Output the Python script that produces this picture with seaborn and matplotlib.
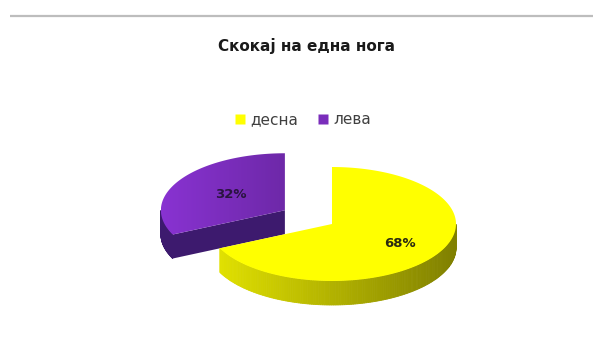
import numpy as np
import matplotlib
matplotlib.use("Agg")
import matplotlib.pyplot as plt
from matplotlib.patches import Polygon
from matplotlib.lines import Line2D
import seaborn as sns

# Data
categories = ["десна", "лева"]
values = [68, 32]
pct_labels = [f"{v}%" for v in values]
title = "Скокај на една нога"

sns.set_theme(style="white")
plt.rcParams["font.family"] = ["DejaVu Sans"]

top_colors = ["#ffff00", "#7a2dbb"]
side_colors = ["#c9c900", "#3d1a6e"]
label_colors = ["#2a2a10", "#2a1440"]

W, H = 593, 353
fig = plt.figure(figsize=(W / 100, H / 100), dpi=100)
ax = fig.add_axes([0, 0, 1, 1])
ax.set_xlim(0, W)
ax.set_ylim(H, 0)
ax.axis("off")

# pie geometry (pixel space, y downward)
cx, cy = 332, 224
rx, ry = 124, 57
depth = 24
explode = [0.0, 0.45]
label_r = [0.65, 0.52]
start = 90.0


def rim(c, t, dz=0.0):
    return (c[0] + rx * np.cos(np.radians(t)), c[1] - ry * np.sin(np.radians(t)) + dz)


def shade(color, f):
    rgb = np.array(matplotlib.colors.to_rgb(color))
    return tuple(np.clip(rgb * f, 0, 1))


total = float(sum(values))
angles = []
a = start
for v in values:
    span = 360.0 * v / total
    angles.append((a - span, a))  # clockwise from 12 o'clock
    a -= span

# draw the exploded slice first (it sits behind)
order = [1, 0]
for i in order:
    t0, t1 = angles[i]
    mid = 0.5 * (t0 + t1)
    c = (cx + explode[i] * rx * np.cos(np.radians(mid)),
         cy - explode[i] * ry * np.sin(np.radians(mid)))

    # radial cut faces that point toward the viewer
    for edge, normal in ((t0, t0 - 90), (t1, t1 + 90)):
        if np.sin(np.radians(normal)) < -0.05:
            pts = [c, rim(c, edge), rim(c, edge, depth), (c[0], c[1] + depth)]
            ax.add_patch(Polygon(pts, closed=True, facecolor=side_colors[i],
                                 edgecolor="none", zorder=2))

    # curved outer wall, visible on the front half
    ts = np.linspace(t0, t1, 240)
    for k in range(len(ts) - 1):
        ta, tb = ts[k], ts[k + 1]
        tm = np.radians(0.5 * (ta + tb))
        if np.sin(tm) < 0:
            if i == 0:
                col = shade(top_colors[0], 0.7 - 0.2 * np.cos(tm))
            else:
                col = side_colors[i]
            pts = [rim(c, ta), rim(c, tb), rim(c, tb, depth), rim(c, ta, depth)]
            ax.add_patch(Polygon(pts, closed=True, facecolor=col, edgecolor=col,
                                 linewidth=0.6, zorder=3))

    # top surface
    top = [c] + [rim(c, t) for t in ts]
    if i == 1:
        # purple top shaded from left to right
        poly = Polygon(top, closed=True, facecolor="none", edgecolor="none", zorder=4)
        ax.add_patch(poly)
        grad = np.linspace(1.12, 0.9, 256).reshape(1, -1)
        base = np.array(matplotlib.colors.to_rgb(top_colors[i]))
        img = np.clip(grad[..., None] * base, 0, 1)
        xs = [p[0] for p in top]
        ys = [p[1] for p in top]
        im = ax.imshow(img, extent=(min(xs), max(xs), max(ys), min(ys)),
                       aspect="auto", zorder=4, interpolation="bilinear")
        im.set_clip_path(poly)
    else:
        ax.add_patch(Polygon(top, closed=True, facecolor=top_colors[i],
                             edgecolor="none", zorder=4))

    # percentage label
    lx = c[0] + label_r[i] * rx * np.cos(np.radians(mid))
    ly = c[1] - label_r[i] * ry * np.sin(np.radians(mid))
    ax.text(lx, ly, pct_labels[i], ha="center", va="center", fontsize=9.5,
            fontweight="bold", color=label_colors[i], zorder=6)

# title
ax.text(306, 46, title, ha="center", va="center", fontsize=11,
        fontweight="bold", color="#1a1a1a")

# legend
handles = [Line2D([0], [0], marker="s", linestyle="none", markersize=7.5,
                  markerfacecolor=top_colors[k], markeredgecolor="none")
           for k in range(len(categories))]
leg = fig.legend(handles, categories, loc="center", bbox_to_anchor=(303 / W, 1 - 120 / H),
                 ncol=2, frameon=False, fontsize=11, handlelength=0.7,
                 handletextpad=0.3, columnspacing=1.3)
for t in leg.get_texts():
    t.set_color("#404040")

# thin rule along the top edge
ax.plot([10, W], [16, 16], color="#bdbdbd", linewidth=1.6, solid_capstyle="butt")

fig.savefig("out.png", dpi=100, facecolor="white")
